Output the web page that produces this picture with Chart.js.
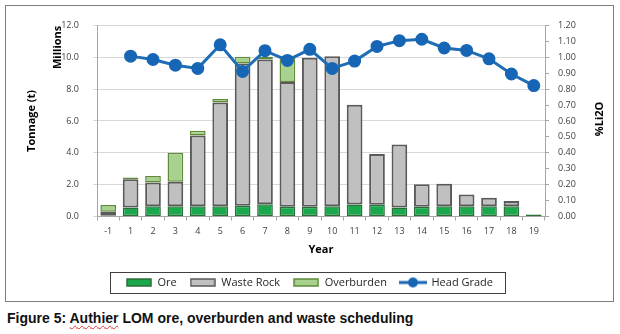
<!DOCTYPE html>
<html lang="en">
<head>
    <meta charset="UTF-8">
    <title>Authier LOM ore, overburden and waste scheduling</title>
    <script src="https://cdn.jsdelivr.net/npm/chart.js@4.4.1/dist/chart.umd.min.js"></script>
    <style>
        body, html {
            margin: 0;
            background: #ffffff;
            width: 620px;
            height: 334px;
            overflow: hidden;
            position: relative;
        }
        #box {
            position: absolute;
            left: 5px;
            top: 5px;
            width: 607px;
            height: 295px;
            border: 1px solid #7f7f7f;
        }
        #caption {
            position: absolute;
            left: 7px;
            top: 310px;
            font: bold 14px 'Liberation Sans', Arial, sans-serif;
            color: #111;
            white-space: nowrap;
        }
        #caption span {
            text-decoration: underline wavy #e03030 1px;
            text-underline-offset: 2px;
        }
    </style>
</head>
<body>
    <div id="box"><canvas id="chart_div"></canvas></div>
    <div id="caption">Figure 5: <span>Authier</span> LOM ore, overburden and waste scheduling</div>
    <script>
        // Years on the x axis
        const years = ['-1', '1', '2', '3', '4', '5', '6', '7', '8', '9', '10',
                       '11', '12', '13', '14', '15', '16', '17', '18', '19'];

        // Tonnage, millions of tonnes (stacked)
        const ore        = [0.05, 0.57, 0.65, 0.65, 0.65, 0.65, 0.67, 0.77, 0.61, 0.61, 0.65,
                            0.75, 0.73, 0.57, 0.61, 0.65, 0.65, 0.65, 0.65, 0.12];
        const wasteRock  = [0.25, 1.77, 1.48, 1.53, 4.43, 6.51, 8.93, 9.09, 7.83, 9.36, 9.42,
                            6.27, 3.20, 3.95, 1.42, 1.40, 0.73, 0.53, 0.33, 0];
        const overburden = [0.42, 0.11, 0.41, 1.82, 0.31, 0.22, 0.43, 0.17, 1.66, 0, 0,
                            0, 0, 0, 0, 0, 0, 0, 0, 0];

        // Head grade, %Li2O (right axis)
        const headGrade  = [null, 1.007, 0.986, 0.950, 0.930, 1.078, 0.911, 1.041, 0.980, 1.050, 0.930,
                            0.976, 1.068, 1.104, 1.113, 1.058, 1.043, 0.990, 0.895, 0.822];

        const seriesNames = ['Ore', 'Waste Rock', 'Overburden', 'Head Grade'];

        Chart.defaults.font.family = "'Open Sans', sans-serif";
        Chart.defaults.color = '#404040';

        // little legend swatches like the Excel ones
        function boxSwatch(fill, stroke) {
            const c = document.createElement('canvas');
            c.width = 26; c.height = 9;
            const g = c.getContext('2d');
            g.fillStyle = fill;
            g.fillRect(1, 1, 24, 7);
            g.strokeStyle = stroke;
            g.lineWidth = 1.5;
            g.strokeRect(1, 1, 24, 7);
            return c;
        }
        function lineSwatch(color) {
            const c = document.createElement('canvas');
            c.width = 28; c.height = 12;
            const g = c.getContext('2d');
            g.strokeStyle = color;
            g.lineWidth = 3;
            g.beginPath(); g.moveTo(0, 6); g.lineTo(28, 6); g.stroke();
            g.fillStyle = color;
            g.beginPath(); g.arc(14, 6, 5, 0, Math.PI * 2); g.fill();
            return c;
        }
        const swatches = [
            boxSwatch('#1aa84c', '#2c6e37'),
            boxSwatch('#c0c0c0', '#5a5a5a'),
            boxSwatch('#a9d18e', '#5f8a3a'),
            lineSwatch('#1766b5')
        ];

        const extraText = {
            id: 'extraText',
            afterDraw(chart) {
                const ctx = chart.ctx;
                const area = chart.chartArea;
                ctx.save();
                ctx.fillStyle = '#000';
                ctx.textAlign = 'center';
                ctx.textBaseline = 'middle';
                ctx.font = "bold 11px 'Open Sans', sans-serif";
                // Millions display unit
                ctx.save();
                ctx.translate(52, area.top + 22);
                ctx.rotate(-Math.PI / 2);
                ctx.fillText('Millions', 0, 0);
                ctx.restore();
                // right axis title, bottom to top like Excel
                ctx.save();
                ctx.translate(594, (area.top + area.bottom) / 2 - 2);
                ctx.rotate(-Math.PI / 2);
                ctx.fillText('%Li2O', 0, 0);
                ctx.restore();
                // legend frame
                const hb = chart.legend.legendHitBoxes;
                if (hb && hb.length) {
                    const l = Math.min(...hb.map(h => h.left)) - 16;
                    const r = Math.max(...hb.map(h => h.left + h.width)) + 12;
                    const t = hb[0].top - 5;
                    ctx.strokeStyle = '#404040';
                    ctx.lineWidth = 1;
                    ctx.strokeRect(Math.round(l) + 0.5, Math.round(t) + 0.5, Math.round(r - l), 21);
                }
                ctx.restore();
            }
        };

        const ctx = document.getElementById('chart_div').getContext('2d');
        const chart = new Chart(ctx, {
            type: 'bar',
            data: {
                labels: years,
                datasets: [{
                    label: seriesNames[0],
                    data: ore,
                    backgroundColor: '#1aa84c',
                    borderColor: '#2c6e37',
                    borderWidth: 1.5,
                    borderSkipped: false,
                    stack: 's'
                }, {
                    label: seriesNames[1],
                    data: wasteRock,
                    backgroundColor: '#c0c0c0',
                    borderColor: '#5a5a5a',
                    borderWidth: 2,
                    borderSkipped: false,
                    stack: 's'
                }, {
                    label: seriesNames[2],
                    data: overburden,
                    backgroundColor: '#a9d18e',
                    borderColor: '#5f8a3a',
                    borderWidth: 1.5,
                    borderSkipped: false,
                    stack: 's'
                }, {
                    type: 'line',
                    label: seriesNames[3],
                    data: headGrade,
                    yAxisID: 'y1',
                    order: -1,
                    borderColor: '#1f6db5',
                    borderWidth: 3,
                    pointRadius: 5,
                    pointHoverRadius: 5,
                    pointBackgroundColor: '#1766b5',
                    pointBorderColor: '#1766b5',
                    tension: 0
                }]
            },
            options: {
                responsive: true,
                maintainAspectRatio: false,
                animation: false,
                layout: { padding: { top: 14, left: 0, right: 0, bottom: 3 } },
                datasets: {
                    bar: { barPercentage: 0.7, categoryPercentage: 1 }
                },
                plugins: {
                    tooltip: { enabled: false },
                    legend: {
                        position: 'bottom',
                        labels: {
                            usePointStyle: true,
                            pointStyleWidth: 26,
                            padding: 13,
                            color: '#262626',
                            font: { size: 11 },
                            sort: (a, b) => a.datasetIndex - b.datasetIndex,
                            generateLabels: (c) => Chart.defaults.plugins.legend.labels.generateLabels(c)
                                .map(item => Object.assign(item, { pointStyle: swatches[item.datasetIndex] }))
                        }
                    }
                },
                scales: {
                    x: {
                        stacked: true,
                        offset: true,
                        grid: { drawOnChartArea: false, offset: true, tickLength: 4, color: '#a6a6a6' },
                        border: { color: '#a6a6a6' },
                        ticks: { font: { size: 9 }, padding: 6, maxRotation: 0 },
                        title: { display: true, text: 'Year', color: '#000', font: { size: 11, weight: 'bold' }, padding: { bottom: 8 } },
                        afterFit: (s) => { s.height = 47.5; }
                    },
                    y: {
                        stacked: true,
                        min: 0,
                        max: 12,
                        ticks: { stepSize: 2, font: { size: 9 }, padding: 14, callback: v => v.toFixed(1) },
                        grid: { color: '#d9d9d9', tickLength: 4 },
                        border: { color: '#a6a6a6' },
                        title: { display: true, text: 'Tonnage (t)', color: '#000', font: { size: 11, weight: 'bold' }, padding: { top: 19 } },
                        afterFit: (s) => { s.width = 91; }
                    },
                    y1: {
                        position: 'right',
                        min: 0,
                        max: 1.2,
                        ticks: { stepSize: 0.1, font: { size: 9 }, padding: 9, callback: v => v.toFixed(2) },
                        grid: { drawOnChartArea: false, tickLength: 4, color: '#a6a6a6' },
                        border: { color: '#a6a6a6' },
                        afterFit: (s) => { s.width = 68; }
                    }
                }
            },
            plugins: [extraText]
        });
    </script>
</body>
</html>
